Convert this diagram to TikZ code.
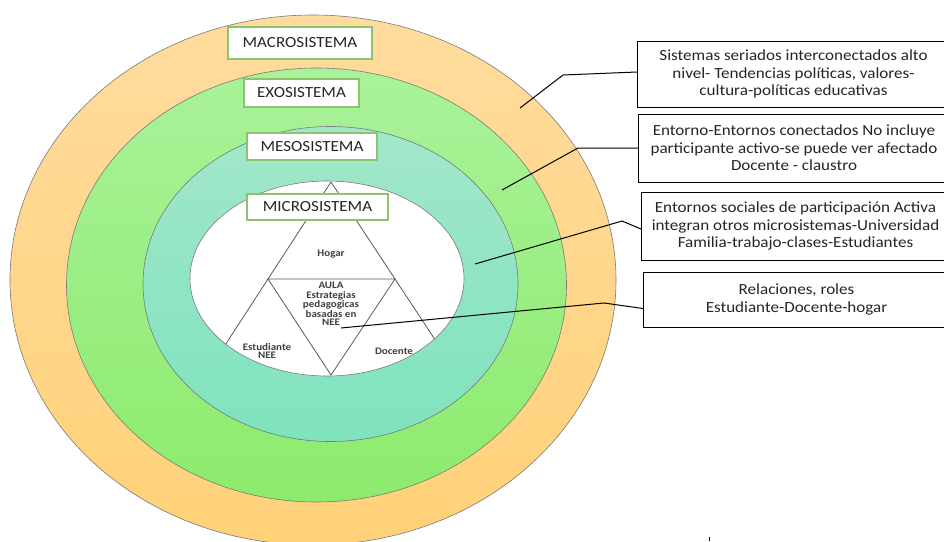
\documentclass[tikz,border=0pt]{standalone}
\usepackage{fontspec}
\usetikzlibrary{calc}
\setmainfont{Carlito}[FakeStretch=1.1]
\definecolor{macroTop}{HTML}{FFDC9E}
\definecolor{macroBot}{HTML}{FFD178}
\definecolor{exoTop}{HTML}{A9F29A}
\definecolor{exoBot}{HTML}{8DEB6C}
\definecolor{mesoTop}{HTML}{A2E7C9}
\definecolor{mesoBot}{HTML}{7EE3BD}
\definecolor{lblgreen}{HTML}{8DC26F}
\definecolor{ringline}{HTML}{7A7A7A}
\begin{document}
\begin{tikzpicture}[x=1pt,y=-1pt,
  ring/.style={draw=ringline, line width=0.6pt},
  syslabel/.style={draw=lblgreen, line width=1.2pt, fill=white, inner sep=0pt,
     font=\fontsize{15.5}{18}\selectfont, text=black!85},
  note/.style={draw=black, line width=1pt, fill=white, align=center, inner sep=0pt,
     font=\fontsize{15.5}{17.5}\selectfont, text=black!85},
  triline/.style={draw=black!65, line width=0.8pt},
  trilabel/.style={font=\bfseries\fontsize{10}{8.3}\selectfont, align=center, text=black!75, inner sep=0pt},
  conn/.style={draw=black, line width=1pt}
]
\useasboundingbox (0,0) rectangle (944,541);
\fill[white] (0,0) rectangle (944,541);
\begin{scope}
\clip (0,0) rectangle (944,541);
% rings
\path[ring, top color=macroTop, bottom color=macroBot] (313,280) ellipse [x radius=303pt, y radius=265pt];
\path[ring, top color=exoTop, bottom color=exoBot] (316.5,285) ellipse [x radius=250pt, y radius=217pt];
\path[ring, top color=mesoTop, bottom color=mesoBot] (330.5,284) ellipse [x radius=187.5pt, y radius=157.5pt];
\path[ring, fill=white] (327,278.5) ellipse [x radius=137pt, y radius=97.5pt];
% triangle
\begin{scope}
\clip (327,278.5) ellipse [x radius=137pt, y radius=97.5pt];
\coordinate (A) at (331,182);
\coordinate (L) at (268,279);
\coordinate (R) at (395,279);
\coordinate (B) at (331,375);
\draw[triline] (A) -- ($(A)!2.05!(L)$);
\draw[triline] (A) -- ($(A)!2.05!(R)$);
\draw[triline] (L) -- (R) -- (B) -- cycle;
\end{scope}
\node[trilabel] (hogar) at (331,254) {Hogar};
\node[trilabel] (aula) at (331,285) {AULA};
\node[trilabel] (estr) at (331,308.5) {Estrategias\\pedagogicas\\basadas en\\NEE};
\node[trilabel] (estu) at (267,351) {Estudiante\\NEE};
\node[trilabel] (doc) at (394,351) {Docente};
% system labels
\node[syslabel, minimum width=144pt, minimum height=32pt] (macro) at (300,43) {MACROSISTEMA};
\node[syslabel, minimum width=115pt, minimum height=28pt] (exo) at (301.5,93) {EXOSISTEMA};
\node[syslabel, minimum width=130pt, minimum height=27pt] (meso) at (312,146.5) {MESOSISTEMA};
\node[syslabel, minimum width=141pt, minimum height=26pt] (micro) at (317.5,207) {MICROSISTEMA};
% notes
\node[note, anchor=west, minimum width=312pt, minimum height=66pt] (b1) at (637,74)
  {Sistemas seriados interconectados alto\\nivel- Tendencias políticas, valores-\\cultura-políticas educativas};
\node[note, anchor=west, minimum width=311pt, minimum height=68pt] (b2) at (638,148)
  {Entorno-Entornos conectados No incluye\\participante activo-se puede ver afectado\\Docente - claustro};
\node[note, anchor=west, minimum width=308pt, minimum height=68pt] (b3) at (641,226)
  {Entornos sociales de participación Activa\\integran otros microsistemas-Universidad\\Familia-trabajo-clases-Estudiantes};
\node[note, anchor=west, minimum width=306pt, minimum height=55pt] (b4) at (643,299.5)
  {Relaciones, roles\\Estudiante-Docente-hogar};
% connectors
\coordinate (p1) at (520,108);
\coordinate (k1) at (563,75);
\coordinate (p2) at (502,190);
\coordinate (k2) at (578,148);
\coordinate (p3) at (475,264);
\coordinate (k3) at (622,221);
\coordinate (p4) at (341,328);
\coordinate (k4) at (604,303);
\draw[conn] (p1) -- (k1) -- ([yshift=2pt]b1.west);
\draw[conn] (p2) -- (k2) -- (b2.west);
\draw[conn] (p3) -- (k3) -- ([yshift=-3pt]b3.west);
\draw[conn] (p4) -- (k4) -- ([yshift=-9pt]b4.west);
% small mark
\coordinate (m1) at (709,537);
\coordinate (m2) at (709,541);
\draw[black, line width=0.8pt] (m1) -- (m2);
\end{scope}
\end{tikzpicture}
\end{document}
